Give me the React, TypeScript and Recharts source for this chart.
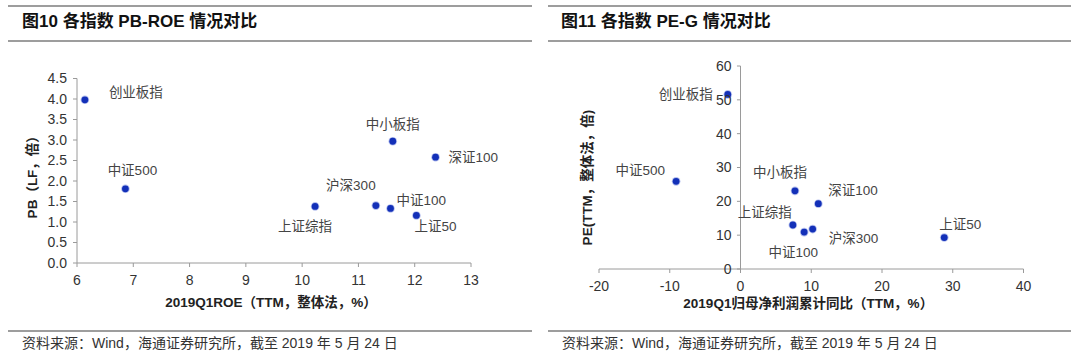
import React from 'react';
import { ScatterChart, Scatter, XAxis, YAxis, ReferenceLine, ReferenceDot, Label } from 'recharts';

// 指数名称
const indexNames = ['创业板指', '中证500', '上证综指', '沪深300', '中证100', '上证50', '中小板指', '深证100'];
// 图10：2019Q1 ROE（TTM，%）与 PB（LF，倍）
const roe = [6.14, 6.86, 10.23, 11.31, 11.57, 12.03, 11.61, 12.37];
const pb = [3.98, 1.81, 1.38, 1.40, 1.33, 1.16, 2.97, 2.58];
// 图11：归母净利润累计同比（TTM，%）与 PE（TTM，倍）
const profitGrowth = [-1.8, -9.1, 7.4, 10.2, 9.0, 28.8, 7.7, 11.0];
const pe = [51.6, 25.9, 13.0, 11.8, 10.9, 9.3, 23.1, 19.3];

const roeTicks = [6, 7, 8, 9, 10, 11, 12, 13];
const pbTicks = [0, 0.5, 1, 1.5, 2, 2.5, 3, 3.5, 4, 4.5];
const growthTicks = [-20, -10, 0, 10, 20, 30, 40];
const peTicks = [0, 10, 20, 30, 40, 50, 60];

const pbRoeData = indexNames.map((name, i) => ({ name, x: roe[i], y: pb[i] }));
const peGData = indexNames.map((name, i) => ({ name, x: profitGrowth[i], y: pe[i] }));

type Place = { dx: number; dy: number; anchor: 'start' | 'middle' | 'end' };

// 数据标签相对点的位置
const pbPlace: Record<string, Place> = {
  创业板指: { dx: 24, dy: -7, anchor: 'start' },
  中证500: { dx: 7, dy: -18, anchor: 'middle' },
  上证综指: { dx: -10, dy: 20, anchor: 'middle' },
  沪深300: { dx: -25, dy: -20, anchor: 'middle' },
  中证100: { dx: 6, dy: -8, anchor: 'start' },
  上证50: { dx: -2, dy: 11, anchor: 'start' },
  中小板指: { dx: 0, dy: -17, anchor: 'middle' },
  深证100: { dx: 13, dy: 0, anchor: 'start' },
};

const pePlace: Record<string, Place> = {
  创业板指: { dx: -15, dy: 0, anchor: 'end' },
  中证500: { dx: -11, dy: -11, anchor: 'end' },
  上证综指: { dx: -28, dy: -13, anchor: 'middle' },
  沪深300: { dx: 16, dy: 9, anchor: 'start' },
  中证100: { dx: -11, dy: 20, anchor: 'middle' },
  上证50: { dx: -5, dy: -13, anchor: 'start' },
  中小板指: { dx: -15, dy: -18, anchor: 'middle' },
  深证100: { dx: 10, dy: -13, anchor: 'start' },
};

const numFont = '"Liberation Sans", Arial, "Noto Sans CJK SC", sans-serif';
const axisGrey = '#9a9a9a';
const tickStyle = { fontSize: 14, fill: '#333', fontFamily: numFont };

function makeDot(place: Record<string, Place>) {
  return (props: any) => {
    const { cx, cy, payload } = props;
    const p = place[payload.name];
    return (
      <g>
        <circle cx={cx} cy={cy} r={4.3} fill="#6b80dd" opacity={0.5} />
        <circle cx={cx} cy={cy} r={3.4} fill="#1330b8" />
        <text
          x={cx + p.dx}
          y={cy + p.dy}
          textAnchor={p.anchor}
          dominantBaseline="central"
          fontSize={13.5}
          fill="#444"
          fontFamily={numFont}
        >
          {payload.name}
        </text>
      </g>
    );
  };
}

function axisTitle(text: string, dx: number, dy: number, vertical: boolean) {
  return (props: any) => {
    const vb = props.viewBox;
    const x = vertical ? vb.x + vb.width + dx : vb.x + vb.width / 2 + dx;
    const y = vertical ? vb.y + vb.height / 2 + dy : vb.y + dy;
    return (
      <text
        x={x}
        y={y}
        textAnchor="middle"
        dominantBaseline="central"
        fontSize={13.5}
        fontWeight="bold"
        fill="#222"
        fontFamily={numFont}
        transform={vertical ? `rotate(-90, ${x}, ${y})` : undefined}
      >
        {text}
      </text>
    );
  };
}

function PbRoeChart() {
  return (
    <ScatterChart width={540} height={363} margin={{ top: 78.5, right: 69, bottom: 70, left: 37 }}>
      <XAxis
        type="number"
        dataKey="x"
        domain={[6, 13]}
        ticks={roeTicks}
        interval={0}
        height={30}
        tick={tickStyle}
        tickSize={4}
        tickMargin={8}
        stroke={axisGrey}
      >
        <Label content={axisTitle('2019Q1ROE（TTM，整体法，%）', -3, 39.5, false)} />
      </XAxis>
      <YAxis
        type="number"
        dataKey="y"
        domain={[0, 4.5]}
        ticks={pbTicks}
        interval={0}
        width={40}
        tick={tickStyle}
        tickSize={4}
        tickMargin={6}
        tickFormatter={(v: number) => v.toFixed(1)}
        stroke={axisGrey}
      >
        <Label content={axisTitle('PB（LF，倍）', -45, 3, true)} />
      </YAxis>
      <Scatter data={pbRoeData} shape={makeDot(pbPlace)} isAnimationActive={false} />
    </ScatterChart>
  );
}

function PeGChart() {
  return (
    <ScatterChart width={540} height={363} margin={{ top: 66, right: 56.5, bottom: 64, left: 0 }}>
      <XAxis
        type="number"
        dataKey="x"
        domain={[-20, 40]}
        ticks={growthTicks}
        interval={0}
        height={30}
        tick={tickStyle}
        tickSize={4}
        tickMargin={8}
        stroke={axisGrey}
      >
        <Label content={axisTitle('2019Q1归母净利润累计同比（TTM，%）', -3, 34, false)} />
      </XAxis>
      <YAxis
        type="number"
        dataKey="y"
        domain={[0, 60]}
        ticks={peTicks}
        width={59}
        tick={false}
        tickLine={false}
        axisLine={false}
      >
        <Label content={axisTitle('PE(TTM，整体法，倍)', -11.5, 10, true)} />
      </YAxis>
      <ReferenceLine x={0} stroke={axisGrey} />
      {peTicks.map((v) => (
        <ReferenceLine
          key={'t' + v}
          segment={[{ x: -0.5, y: v }, { x: 0, y: v }]}
          stroke={axisGrey}
        />
      ))}
      {peTicks.map((v) => (
        <ReferenceDot
          key={'l' + v}
          x={0}
          y={v}
          r={0}
          stroke="none"
          fill="none"
          label={{ value: String(v), position: 'left', offset: 9, ...tickStyle }}
        />
      ))}
      <Scatter data={peGData} shape={makeDot(pePlace)} isAnimationActive={false} />
    </ScatterChart>
  );
}

const rule = (left: number, top: number, width: number) => (
  <div style={{ position: 'absolute', left, top, width, height: 2, background: '#9d9d9d' }} />
);

const titleStyle: React.CSSProperties = {
  position: 'absolute',
  top: 12,
  fontSize: 17,
  fontWeight: 'bold',
  lineHeight: '20px',
  color: '#111',
  fontFamily: numFont,
  whiteSpace: 'nowrap',
};

const footStyle: React.CSSProperties = {
  position: 'absolute',
  top: 334,
  fontSize: 14,
  lineHeight: '18px',
  color: '#333',
  fontFamily: numFont,
  whiteSpace: 'nowrap',
};

export default function App() {
  return (
    <div style={{ position: 'absolute', left: 0, top: 0, width: 1080, height: 363, background: '#fff', overflow: 'hidden' }}>
      {rule(8, 5, 524)}
      {rule(8, 40, 524)}
      {rule(8, 330, 524)}
      {rule(548, 5, 523)}
      {rule(548, 40, 523)}
      {rule(548, 330, 523)}
      <div style={{ ...titleStyle, left: 22 }}>图10 各指数 PB-ROE 情况对比</div>
      <div style={{ ...titleStyle, left: 561 }}>图11 各指数 PE-G 情况对比</div>
      <div style={{ position: 'absolute', left: 0, top: 0 }}>
        <PbRoeChart />
      </div>
      <div style={{ position: 'absolute', left: 540, top: 0 }}>
        <PeGChart />
      </div>
      <div style={{ ...footStyle, left: 22 }}>资料来源：Wind，海通证券研究所，截至 2019 年 5 月 24 日</div>
      <div style={{ ...footStyle, left: 562 }}>资料来源：Wind，海通证券研究所，截至 2019 年 5 月 24 日</div>
    </div>
  );
}
